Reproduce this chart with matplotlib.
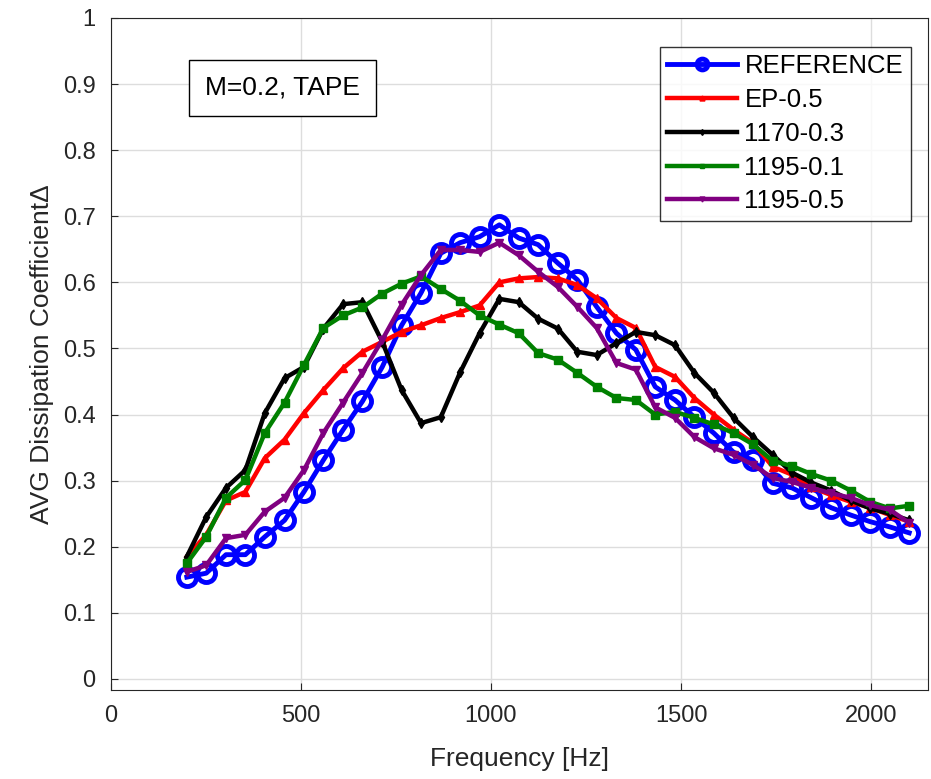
import matplotlib
matplotlib.use("Agg")
import matplotlib.pyplot as plt

plt.rcParams['font.family'] = ['Liberation Sans', 'DejaVu Sans']

# frequencies [Hz]
freq = [200, 251, 303, 354, 405, 457, 508, 559, 611, 662,
        714, 765, 816, 868, 919, 970, 1022, 1073, 1124, 1176,
        1227, 1278, 1330, 1381, 1432, 1484, 1535, 1586, 1638, 1689,
        1741, 1792, 1843, 1895, 1946, 1997, 2049, 2100]

reference = [0.154, 0.160, 0.188, 0.188, 0.215, 0.240, 0.283, 0.331, 0.377, 0.420,
             0.472, 0.535, 0.584, 0.644, 0.660, 0.669, 0.687, 0.667, 0.657, 0.629,
             0.604, 0.563, 0.523, 0.498, 0.442, 0.422, 0.396, 0.372, 0.343, 0.331,
             0.296, 0.289, 0.274, 0.259, 0.248, 0.238, 0.230, 0.221]

ep05 = [0.185, 0.218, 0.270, 0.283, 0.334, 0.362, 0.402, 0.437, 0.470, 0.495,
        0.510, 0.525, 0.535, 0.546, 0.555, 0.565, 0.600, 0.606, 0.608, 0.606,
        0.596, 0.576, 0.546, 0.531, 0.472, 0.457, 0.425, 0.400, 0.377, 0.357,
        0.321, 0.309, 0.290, 0.278, 0.268, 0.259, 0.248, 0.238]

s1170_03 = [0.185, 0.245, 0.289, 0.316, 0.402, 0.455, 0.472, 0.530, 0.567, 0.570,
            0.510, 0.437, 0.387, 0.396, 0.464, 0.523, 0.575, 0.570, 0.545, 0.530,
            0.495, 0.490, 0.508, 0.525, 0.520, 0.505, 0.463, 0.433, 0.395, 0.366,
            0.339, 0.312, 0.297, 0.285, 0.270, 0.258, 0.250, 0.240]

s1195_01 = [0.175, 0.215, 0.274, 0.301, 0.372, 0.418, 0.475, 0.531, 0.550, 0.562,
            0.583, 0.598, 0.609, 0.590, 0.572, 0.550, 0.536, 0.523, 0.493, 0.483,
            0.463, 0.442, 0.425, 0.422, 0.400, 0.404, 0.395, 0.385, 0.372, 0.355,
            0.330, 0.322, 0.310, 0.300, 0.285, 0.268, 0.258, 0.262]

s1195_05 = [0.162, 0.172, 0.213, 0.218, 0.253, 0.274, 0.316, 0.372, 0.418, 0.463,
            0.513, 0.566, 0.611, 0.649, 0.649, 0.646, 0.660, 0.641, 0.616, 0.593,
            0.563, 0.531, 0.478, 0.468, 0.411, 0.395, 0.366, 0.349, 0.339, 0.324,
            0.304, 0.298, 0.289, 0.281, 0.274, 0.263, 0.256, 0.236]

fig = plt.figure(figsize=(9.31, 7.79), dpi=100)
ax = fig.add_axes([0.119, 0.114, 0.878, 0.863])

ax.plot(freq, reference, color='blue', lw=3.5, marker='o', ms=13,
        mfc='none', mew=3.5, label='REFERENCE')
ax.plot(freq, ep05, color='red', lw=3.2, marker='^', ms=6, label='EP-0.5')
ax.plot(freq, s1170_03, color='black', lw=3.2, marker='d', ms=5, label='1170-0.3')
ax.plot(freq, s1195_01, color='green', lw=3.2, marker='s', ms=5.5, label='1195-0.1')
ax.plot(freq, s1195_05, color='purple', lw=3.2, marker='v', ms=6, label='1195-0.5')

ax.set_xlim(0, 2150)
ax.set_ylim(-0.017, 1)
ax.set_xticks([0, 500, 1000, 1500, 2000])
ax.set_yticks([0, 0.1, 0.2, 0.3, 0.4, 0.5, 0.6, 0.7, 0.8, 0.9, 1])
ax.set_yticklabels(['0', '0.1', '0.2', '0.3', '0.4', '0.5', '0.6', '0.7', '0.8', '0.9', '1'])
ax.tick_params(labelsize=17, direction='in', length=5, pad=11, colors='#262626')
ax.grid(True, color='#dddddd', lw=1)
ax.set_axisbelow(True)
for sp in ax.spines.values():
    sp.set_color('#262626')

ax.set_xlabel('Frequency [Hz]', fontsize=19, color='#262626', labelpad=14)
ax.set_ylabel('AVG Dissipation Coefficient\u0394', fontsize=19, color='#262626', labelpad=6)

ax.text(0.21, 0.896, 'M=0.2, TAPE', transform=ax.transAxes, fontsize=19,
        ha='center', va='center',
        bbox=dict(boxstyle='square,pad=0.6', fc='white', ec='black', lw=1))

leg = ax.legend(loc='upper right', bbox_to_anchor=(0.985, 0.965), fontsize=18.5,
                frameon=True, fancybox=False, edgecolor='black',
                handlelength=2.7, handletextpad=0.3, labelspacing=0.38,
                borderpad=0.3, borderaxespad=0.2, markerscale=0.6)
leg.get_frame().set_linewidth(1)

fig.savefig('out.png', dpi=100)
